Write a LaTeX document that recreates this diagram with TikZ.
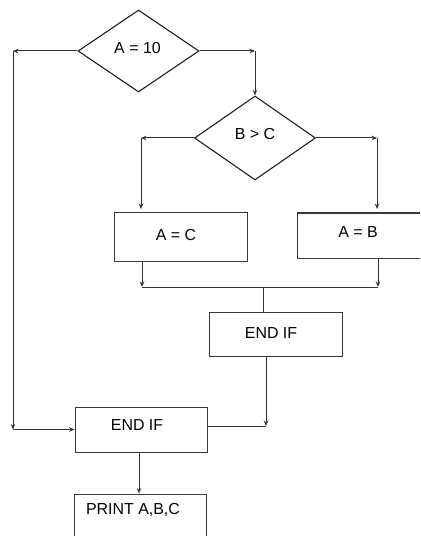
\documentclass[tikz,border=0pt]{standalone}
\usepackage{fontspec}
\setmainfont{Liberation Sans}
\usetikzlibrary{shapes.geometric,arrows.meta}
\begin{document}
\begin{tikzpicture}[x=1bp,y=-1bp,line width=1bp,
  con/.style={draw=black!80},
  dec/.style={diamond,draw=black!88,line width=1.1bp,inner sep=0pt,minimum width=121bp,minimum height=82bp},
  box/.style={rectangle,draw=black!78,line width=1bp,inner sep=0pt},
  txt/.style={inner sep=0pt,font=\fontsize{16}{18}\selectfont,text=black},
  arr/.style={con,-{Stealth[length=5.5bp,width=4.5bp]}}]
\useasboundingbox (0,0) rectangle (420,536);
\clip (0,0) rectangle (420,536);
% decisions
\node[dec] (d1) at (138.5,51) {};
\node[txt] (t1) at (137.5,48) {A = 10};
\node[dec,minimum height=84bp] (d2) at (255,138) {};
\node[txt] (t2) at (255,134) {B > C};
% boxes
\node[box,minimum width=133bp,minimum height=48bp] (ac) at (180.5,237) {};
\node[txt] (tac) at (176,235) {A = C};
\node[box,minimum width=131bp,minimum height=45bp] (ab) at (362.5,235.5) {};
\node[txt] (tab) at (358,232) {A = B};
\node[box,minimum width=133bp,minimum height=44bp] (e1) at (275.5,334) {};
\node[txt] (te1) at (271,333) {END IF};
\node[box,minimum width=132bp,minimum height=45bp] (e2) at (141,429.5) {};
\node[txt] (te2) at (137,425) {END IF};
\node[box,minimum width=132bp,minimum height=58bp] (pr) at (140,523) {};
\node[txt] (tpr) at (133,510) {PRINT A,B,C};
% coordinates
\coordinate (L1) at (13,51);
\coordinate (L2) at (13,429.5);
\coordinate (R1) at (255,51);
\coordinate (BL) at (141,138);
\coordinate (BL2) at (141,209);
\coordinate (BR) at (377,138);
\coordinate (BR2) at (377,209);
\coordinate (M1) at (142,287);
\coordinate (M2) at (378,287);
\coordinate (M3) at (263,287);
\coordinate (E1) at (266,426);
\coordinate (E2) at (207,426);
\coordinate (P1) at (139,0);
% connectors
\draw[arr] (d1.west) -- (L1);
\draw[arr] (L1) -- (L2);
\draw[arr] (L2) -- (e2.west);
\draw[arr] (d1.east) -- (R1);
\draw[arr] (R1) -- (d2.north);
\draw[arr] (d2.west) -- (BL);
\draw[arr] (BL) -- (BL2);
\draw[arr] (d2.east) -- (BR);
\draw[arr] (BR) -- (BR2);
\draw[arr] (ac.south -| M1) -- (M1);
\draw[arr] (ab.south -| M2) -- (M2);
\draw[con] (M1) -- (M2);
\draw[con] (M3) -- (e1.north -| M3);
\draw[arr] (e1.south -| E1) -- (E1);
\draw[con] (E1) -- (E2);
\draw[arr] (e2.south -| P1) -- (pr.north -| P1);
\end{tikzpicture}
\end{document}
